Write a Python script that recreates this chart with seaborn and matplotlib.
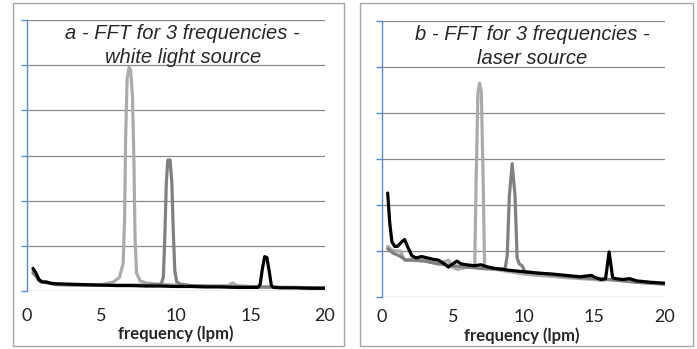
import numpy as np
import pandas as pd
import seaborn as sns
import matplotlib.pyplot as plt
from matplotlib.patches import Rectangle

# panel a - white light source
a_light_x = [0.4, 0.8, 1.2, 2, 3, 4, 5, 5.8, 6.2, 6.45, 6.55, 6.62, 6.72, 6.85, 6.95, 7.08, 7.18, 7.25, 7.35, 7.6, 8, 8.7, 9.5, 10.5, 12, 13.5, 13.8, 14.1, 15, 16, 17, 18, 20]
a_light_y = [0.45, 0.22, 0.2, 0.15, 0.13, 0.13, 0.14, 0.2, 0.3, 0.6, 1.6, 3.4, 4.7, 4.95, 4.9, 4.3, 2.8, 1.2, 0.4, 0.22, 0.18, 0.15, 0.14, 0.12, 0.11, 0.12, 0.18, 0.12, 0.1, 0.09, 0.08, 0.08, 0.07]
a_mid_x = [0.4, 1, 2, 4, 6, 8, 9.0, 9.15, 9.25, 9.35, 9.45, 9.6, 9.72, 9.82, 9.92, 10.05, 10.3, 11, 13, 15, 17, 20]
a_mid_y = [0.4, 0.2, 0.14, 0.13, 0.13, 0.13, 0.15, 0.3, 1.2, 2.4, 2.9, 2.9, 2.4, 1.3, 0.45, 0.2, 0.15, 0.12, 0.1, 0.09, 0.08, 0.07]
a_black_x = [0.4, 0.6, 0.8, 1.0, 1.3, 1.6, 2, 3, 4, 5, 6, 7, 8, 9, 10, 11, 12, 13, 14, 15, 15.5, 15.65, 15.8, 15.95, 16.1, 16.25, 16.4, 16.55, 17, 18, 19, 20]
a_black_y = [0.5, 0.4, 0.25, 0.2, 0.2, 0.17, 0.16, 0.15, 0.14, 0.13, 0.12, 0.12, 0.11, 0.11, 0.1, 0.1, 0.09, 0.09, 0.08, 0.08, 0.08, 0.15, 0.5, 0.76, 0.74, 0.45, 0.12, 0.08, 0.07, 0.07, 0.06, 0.06]

# panel b - laser source
b_light_x = [0.4, 0.7, 1.0, 1.3, 1.6, 2.0, 2.5, 3, 3.5, 4, 4.7, 5.0, 5.3, 5.6, 6, 6.55, 6.65, 6.78, 6.9, 7.02, 7.15, 7.25, 7.5, 8, 9, 10, 11, 12, 13, 14, 15, 15.5, 16, 16.5, 17, 18, 19, 20]
b_light_y = [1.1, 1.02, 1.0, 1.0, 0.8, 0.82, 0.82, 0.8, 0.75, 0.72, 0.8, 0.65, 0.6, 0.62, 0.65, 0.65, 2.5, 4.45, 4.65, 4.45, 2.5, 0.65, 0.65, 0.6, 0.55, 0.5, 0.47, 0.45, 0.42, 0.4, 0.38, 0.36, 0.38, 0.37, 0.36, 0.32, 0.3, 0.28]
b_mid_x = [0.4, 0.8, 1.2, 1.7, 2.2, 3, 4, 5, 6, 7, 8, 8.7, 8.85, 9.0, 9.2, 9.4, 9.55, 9.7, 9.9, 10.1, 11, 12, 14, 16, 18, 20]
b_mid_y = [1.05, 0.95, 0.9, 0.8, 0.8, 0.78, 0.72, 0.68, 0.65, 0.62, 0.6, 0.62, 0.9, 2.2, 2.9, 2.2, 0.85, 0.72, 0.68, 0.55, 0.52, 0.48, 0.42, 0.38, 0.32, 0.28]
b_black_x = [0.4, 0.55, 0.7, 0.9, 1.1, 1.4, 1.6, 1.8, 2.1, 2.4, 2.8, 3.2, 3.6, 4.0, 4.4, 4.7, 5.0, 5.3, 5.6, 6, 6.5, 7, 7.5, 8, 9, 10, 11, 12, 13, 14, 14.8, 15.1, 15.5, 15.8, 16.05, 16.3, 16.5, 17, 17.5, 18, 19, 20]
b_black_y = [2.26, 1.6, 1.2, 1.1, 1.1, 1.2, 1.25, 1.1, 0.9, 0.85, 0.88, 0.85, 0.82, 0.8, 0.72, 0.65, 0.72, 0.78, 0.72, 0.7, 0.68, 0.7, 0.65, 0.62, 0.58, 0.55, 0.52, 0.5, 0.47, 0.44, 0.47, 0.42, 0.38, 0.4, 0.98, 0.42, 0.4, 0.38, 0.4, 0.35, 0.32, 0.3]

titles = ["a - FFT for 3 frequencies -\nwhite light source", "b - FFT for 3 frequencies -\nlaser source"]
xticks = [0, 5, 10, 15, 20]

sns.set_style("white")
plt.rcParams['font.family'] = ['Lato', 'DejaVu Sans']

fig = plt.figure(figsize=(6.97, 3.49), dpi=100)
W, H = 697, 349

def px_axes(l, r, t, b):
    return fig.add_axes([l / W, 1 - b / H, (r - l) / W, (b - t) / H])

ax_a = px_axes(27, 325, 20, 291)
ax_b = px_axes(382, 665, 21, 297)

# panel borders
for (l, r, t, b) in [(13, 344, 3, 346), (360, 693, 3, 346)]:
    fig.patches.append(Rectangle((l / W, 1 - b / H), (r - l) / W, (b - t) / H,
                                 transform=fig.transFigure, fill=False,
                                 edgecolor='#a6a6a6', lw=1))

panels = [
    (ax_a, [(a_light_x, a_light_y), (a_mid_x, a_mid_y), (a_black_x, a_black_y)]),
    (ax_b, [(b_light_x, b_light_y), (b_mid_x, b_mid_y), (b_black_x, b_black_y)]),
]
colors = ['#ababab', '#808080', '#000000']

for i, (ax, series) in enumerate(panels):
    for (x, y), c in zip(series, colors):
        sns.lineplot(x=x, y=y, ax=ax, color=c, lw=2.3, sort=False)
    ax.set_xlim(0, 20)
    ax.set_ylim(0, 6)
    ax.set_yticks(range(7))
    ax.set_yticklabels([])
    ax.set_xticks(xticks)
    ax.set_xticklabels([str(t) for t in xticks])
    ax.grid(axis='y', color='#8a8a8a', lw=0.9)
    ax.set_axisbelow(True)
    for s in ['top', 'right', 'bottom']:
        ax.spines[s].set_visible(False)
    ax.spines['left'].set_color('#5b8bd0')
    ax.spines['left'].set_linewidth(1)
    ax.tick_params(axis='y', left=True, length=4, color='#5b8bd0', width=1)
    ax.tick_params(axis='x', bottom=False, labelsize=13, labelcolor='#222222')
    ax.set_xlabel("frequency (lpm)", fontsize=12, fontweight='bold')
    ax.set_ylabel("")

ax_a.tick_params(axis='x', pad=9)
ax_b.tick_params(axis='x', pad=5)
ax_a.xaxis.set_label_coords(0.498, -0.158)
ax_b.xaxis.set_label_coords(0.495, -0.14)
ax_a.xaxis.label.set_va('center')
ax_b.xaxis.label.set_va('center')

ax_a.text(0.523, 0.905, titles[0], transform=ax_a.transAxes, ha='center', va='center',
          fontsize=14.5, style='italic', family='Liberation Sans', linespacing=1.3)
ax_b.text(0.53, 0.908, titles[1], transform=ax_b.transAxes, ha='center', va='center',
          fontsize=14.5, style='italic', family='Liberation Sans', linespacing=1.3)

fig.savefig("out.png", dpi=100)
